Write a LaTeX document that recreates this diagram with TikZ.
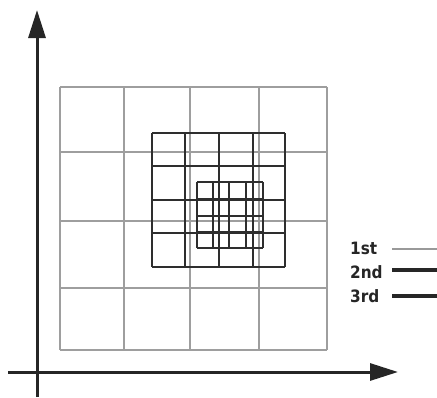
\documentclass[tikz,border=0pt]{standalone}
\usepackage{fontspec}
\setmainfont{DejaVu Sans Condensed}
\usetikzlibrary{arrows.meta}
\tikzset{
  axisline/.style={line width=3pt, draw=black!85, -{Triangle[length=28pt,width=17pt]}},
  firstg/.style={line width=1.5pt, draw=black!38},
  secondg/.style={line width=2.4pt, draw=black!82},
  thirdg/.style={line width=2.4pt, draw=black!82},
  legtext/.style={font=\bfseries\fontsize{17}{17}\selectfont, text=black!85, anchor=west, inner sep=0pt},
}
\begin{document}
\begin{tikzpicture}[x=1pt,y=-1pt]
\useasboundingbox (0,0) rectangle (437,397);
\fill[white] (0,0) rectangle (437,397);
% first grid
\foreach \x in {60,124,190,259,327} \draw[firstg] (\x,87) -- (\x,350);
\foreach \y in {87,152,221,288,350} \draw[firstg] (60,\y) -- (327,\y);
% second grid
\foreach \x in {152,185,219,253,285} \draw[secondg] (\x,133) -- (\x,267);
\foreach \y in {133,166,200,233,267} \draw[secondg] (152,\y) -- (285,\y);
% third grid
\foreach \x in {197,213,229,246,263} \draw[thirdg] (\x,182) -- (\x,248);
\foreach \y in {182,199,216,232,248} \draw[thirdg] (197,\y) -- (263,\y);
% axes
\coordinate (yb) at (37,397);
\coordinate (yt) at (37,10);
\coordinate (xl) at (8,372);
\coordinate (xr) at (398,372);
\draw[axisline] (yb) -- (yt);
\draw[axisline] (xl) -- (xr);
% legend
\node[legtext] (l1) at (350,248) {1st};
\node[legtext] (l2) at (350,272) {2nd};
\node[legtext] (l3) at (350,296) {3rd};
\coordinate (e1) at (437,249);
\coordinate (e2) at (437,270);
\coordinate (e3) at (437,296);
\draw[line width=2pt, draw=black!40] (392,249) -- (e1);
\draw[line width=3.5pt, draw=black!85] (392,270) -- (e2);
\draw[line width=3.5pt, draw=black!85] (392,296) -- (e3);
\end{tikzpicture}
\end{document}
